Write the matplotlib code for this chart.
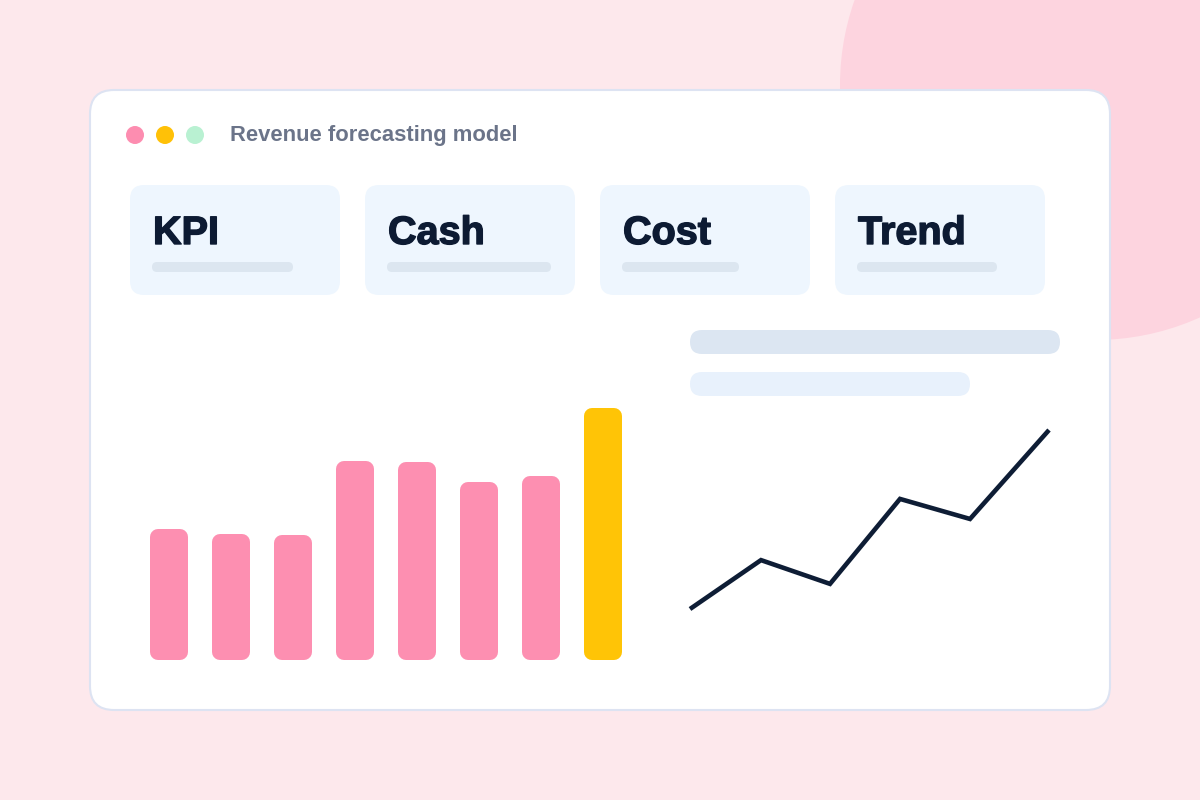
import matplotlib.pyplot as plt
import matplotlib.patheffects as pe
from matplotlib.patches import FancyBboxPatch, Circle

plt.rcParams['font.family'] = ['Liberation Sans', 'DejaVu Sans']

# data
title = "Revenue forecasting model"
card_labels = ["KPI", "Cash", "Cost", "Trend"]
bar_values = [52, 50, 49.6, 79, 78.6, 70.6, 73, 100]
bar_colors = ["#fd8fb1"] * 7 + ["#ffc406"]
line_x = [0, 71, 140, 210, 280, 359]
line_values = [20, 38.3, 29.4, 61.2, 53.7, 87]

W, H = 1200, 800
fig = plt.figure(figsize=(12, 8), dpi=100)
fig.patch.set_facecolor("#fde8ec")

# background layer in pixel units
bg = fig.add_axes([0, 0, 1, 1])
bg.set_xlim(0, W)
bg.set_ylim(H, 0)
bg.axis("off")

def rbox(ax, x, y, w, h, r, fc, ec="none", lw=0, z=1):
    p = FancyBboxPatch((x, y), w, h, boxstyle=f"round,pad=0,rounding_size={r}",
                       fc=fc, ec=ec, lw=lw, zorder=z)
    ax.add_patch(p)
    return p

bg.add_patch(Circle((1095, 85), 255, fc="#fdd4df", ec="none", zorder=0))

# window
rbox(bg, 90, 90, 1020, 620, 24, "white", ec="#dde3f2", lw=1.5, z=1)
for cx, c in zip([135, 165, 195], ["#fd8db0", "#ffc107", "#b9f1d2"]):
    bg.add_patch(Circle((cx, 135), 9, fc=c, ec="none", zorder=2))
bg.text(230, 136, title, fontsize=15.8, fontweight="bold", color="#6b7489",
        va="center", ha="left", zorder=3)

# kpi cards
line_w = [141, 164, 117, 140]
for i, (lab, lw_) in enumerate(zip(card_labels, line_w)):
    x0 = 130 + i * 235
    rbox(bg, x0, 185, 210, 110, 14, "#eef6fe", z=2)
    bg.text(x0 + 23, 233, lab, fontsize=28.5, fontweight="bold", color="#0d1b33",
            va="center", ha="left", zorder=3,
            path_effects=[pe.withStroke(linewidth=1.0, foreground="#0d1b33")])
    rbox(bg, x0 + 22, 262, lw_, 10, 5, "#dce6f0", z=3)

# right placeholder lines
rbox(bg, 690, 330, 370, 24, 12, "#dce6f2", z=2)
rbox(bg, 690, 372, 280, 24, 12, "#e8f1fc", z=2)

# bar chart: rounded corners come from a thick round-joined edge,
# so the inner bar is shrunk by the corner radius on every side
bx0, bx1, by0, by1 = 138, 634, 660, 408
axb = fig.add_axes([bx0 / W, 1 - by0 / H, (bx1 - bx0) / W, (by0 - by1) / H])
axb.set_xlim(-0.5, len(bar_values) - 0.5)
axb.set_ylim(0, 100)
axb.axis("off")
px_x = (bx1 - bx0) / len(bar_values)   # pixels per category
px_y = (by0 - by1) / 100               # pixels per value unit
rad = 8
inner_w = (38 - 2 * rad) / px_x
pad_y = rad / px_y
axb.bar(range(len(bar_values)), [v - 2 * pad_y for v in bar_values],
        bottom=pad_y, width=inner_w, color=bar_colors, edgecolor=bar_colors,
        linewidth=2 * rad * 72 / 100, joinstyle="round", clip_on=False)

# line chart
lx0, lx1, ly0, ly1 = 690, 1049, 609, 430
axl = fig.add_axes([lx0 / W, 1 - ly0 / H, (lx1 - lx0) / W, (ly0 - ly1) / H])
axl.set_xlim(min(line_x), max(line_x))
axl.set_ylim(min(line_values), max(line_values))
axl.axis("off")
axl.plot(line_x, line_values, color="#0e1d35", lw=3.3,
         solid_joinstyle="miter", solid_capstyle="butt", clip_on=False)

fig.savefig("out.png", dpi=100)
